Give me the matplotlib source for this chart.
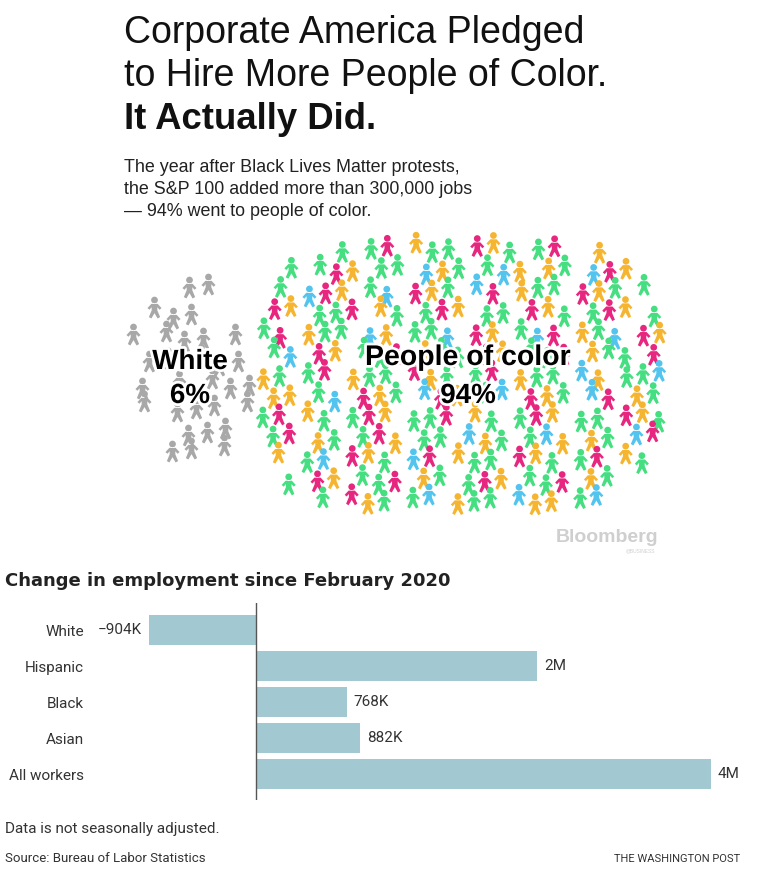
import numpy as np
import matplotlib
matplotlib.use("Agg")
import matplotlib.pyplot as plt
from matplotlib.path import Path
import matplotlib.patheffects as pe

# pictograph data
group_names = ["White", "People of color"]
group_shares = [6, 94]
white_icons = 31
poc_icons = 250
poc_colors = ["#45de80", "#f6b530", "#e7277f", "#52c4ee"]
poc_weights = [0.42, 0.26, 0.21, 0.11]

# bar chart data (thousands of jobs)
categories = ["White", "Hispanic", "Black", "Asian", "All workers"]
changes = [-904, 2380, 768, 882, 3850]
change_labels = ["\u2212904K", "2M", "768K", "882K", "4M"]

W, H = 784, 874
fig = plt.figure(figsize=(W / 100, H / 100), dpi=100)
fig.patch.set_facecolor("white")

# overlay axes in pixel coordinates (y down)
ov = fig.add_axes([0, 0, 1, 1])
ov.set_xlim(0, W)
ov.set_ylim(H, 0)
ov.axis("off")

sans = "Liberation Sans"
post = "Roboto"

ov.text(124, 43, "Corporate America Pledged", fontsize=27, family=sans, color="#111111")
ov.text(124, 86, "to Hire More People of Color.", fontsize=27, family=sans, color="#111111")
ov.text(124, 129, "It Actually Did.", fontsize=26.3, family=sans, weight="bold", color="#111111")
sub = ["The year after Black Lives Matter protests,",
       "the S&P 100 added more than 300,000 jobs",
       "\u2014 94% went to people of color."]
for i, s in enumerate(sub):
    ov.text(124, 172 + 22 * i, s, fontsize=12.9, family=sans, color="#222222")

# person icon marker
body = [(-0.22, 0.26), (0.22, 0.26), (0.50, -0.04), (0.36, -0.16), (0.20, 0.02),
        (0.20, -0.20), (0.40, -0.68), (0.22, -0.78), (0.0, -0.40), (-0.22, -0.78),
        (-0.40, -0.68), (-0.20, -0.20), (-0.20, 0.02), (-0.36, -0.16), (-0.50, -0.04),
        (-0.22, 0.26)]
body_path = Path(body, [Path.MOVETO] + [Path.LINETO] * (len(body) - 2) + [Path.CLOSEPOLY])
head = Path.circle((0, 0.53), 0.24)
person = Path.make_compound_path(head, body_path)


def layout(cx, cy, a, b, dx, dy, n, power):
    pts = []
    rows = int(2 * b / dy) + 2
    cols = int(2 * a / dx) + 2
    k = 0
    for r in range(rows):
        for c in range(cols):
            k += 1
            jx = ((k * 0.6180339) % 1 - 0.5) * dx * 0.6
            jy = ((k * 0.7548777) % 1 - 0.5) * dy * 0.6
            x = cx - a + dx / 2 + c * dx + (dx / 2 if r % 2 else 0) + jx
            y = cy - b + dy / 2 + r * dy + jy
            if abs((x - cx) / a) ** power + abs((y - cy) / b) ** power <= 1:
                pts.append((x, y))
    pts = np.array(pts)
    if len(pts) > n:
        pts = pts[np.round(np.linspace(0, len(pts) - 1, n)).astype(int)]
    return pts


wp = layout(188, 371, 64, 92, 24, 23, white_icons, 2)
ov.scatter(wp[:, 0], wp[:, 1], marker=person, s=250, color="#a8a8a8", linewidths=0)

pp = layout(459, 375, 206, 137, 21, 21, poc_icons, 3.5)
cum = np.cumsum(poc_weights)
cols = [poc_colors[min(int(np.searchsorted(cum, (k * 0.7548777 + 0.31) % 1)), 3)]
        for k in range(len(pp))]
ov.scatter(pp[:, 0], pp[:, 1], marker=person, s=250, c=cols, linewidths=0)

halo = [pe.withStroke(linewidth=4, foreground="white")]
ov.text(190, 362, f"{group_names[0]}", fontsize=20, weight="bold", family=sans,
        ha="center", va="center", path_effects=halo)
ov.text(190, 396, f"{group_shares[0]}%", fontsize=20, weight="bold", family=sans,
        ha="center", va="center", path_effects=halo)
ov.text(468, 358, f"{group_names[1]}", fontsize=20.5, weight="bold", family=sans,
        ha="center", va="center", path_effects=halo)
ov.text(468, 396, f"{group_shares[1]}%", fontsize=20, weight="bold", family=sans,
        ha="center", va="center", path_effects=halo)

ov.text(658, 537, "Bloomberg", fontsize=14, weight="bold", family=sans, color="#cfcfcf",
        ha="right", va="center")
ov.text(655, 551, "@BUSINESS", fontsize=3.5, family=sans, color="#cfcfcf", ha="right", va="center")

# bar chart
ov.text(5, 586, "Change in employment since February 2020", fontsize=13, weight="bold",
        family="DejaVu Sans", color="#222222")

ax_l, ax_r, ax_t, ax_b = 149, 711, 603, 800
ax = fig.add_axes([ax_l / W, 1 - ax_b / H, (ax_r - ax_l) / W, (ax_b - ax_t) / H])
ypos = np.arange(len(categories))
ax.barh(ypos, changes, height=0.84, color="#a2c9d2")
ax.set_xlim(min(changes), max(changes))
ax.set_ylim(len(categories) - 0.28, -0.75)
ax.axvline(0, color="#555555", lw=1)
for s in ax.spines.values():
    s.set_visible(False)
ax.set_xticks([])
ax.set_yticks(ypos)
ax.set_yticklabels(categories, fontsize=11, color="#333333", family=post)
ax.tick_params(axis="y", length=0, pad=47)
for y, v, lab in zip(ypos, changes, change_labels):
    off = -5 if v < 0 else 5
    ax.annotate(lab, (v, y), xytext=(off, 0), textcoords="offset points",
                ha="right" if v < 0 else "left", va="center", fontsize=11,
                color="#333333", family=post)
ax.set_facecolor("none")

ov.text(5, 833, "Data is not seasonally adjusted.", fontsize=11, color="#333333", family=post)
ov.text(5, 862, "Source: Bureau of Labor Statistics", fontsize=9.5, color="#333333", family=post)
ov.text(740, 862, "THE WASHINGTON POST", fontsize=8, color="#333333", ha="right", family=post)

fig.savefig("out.png", dpi=100, facecolor="white")
